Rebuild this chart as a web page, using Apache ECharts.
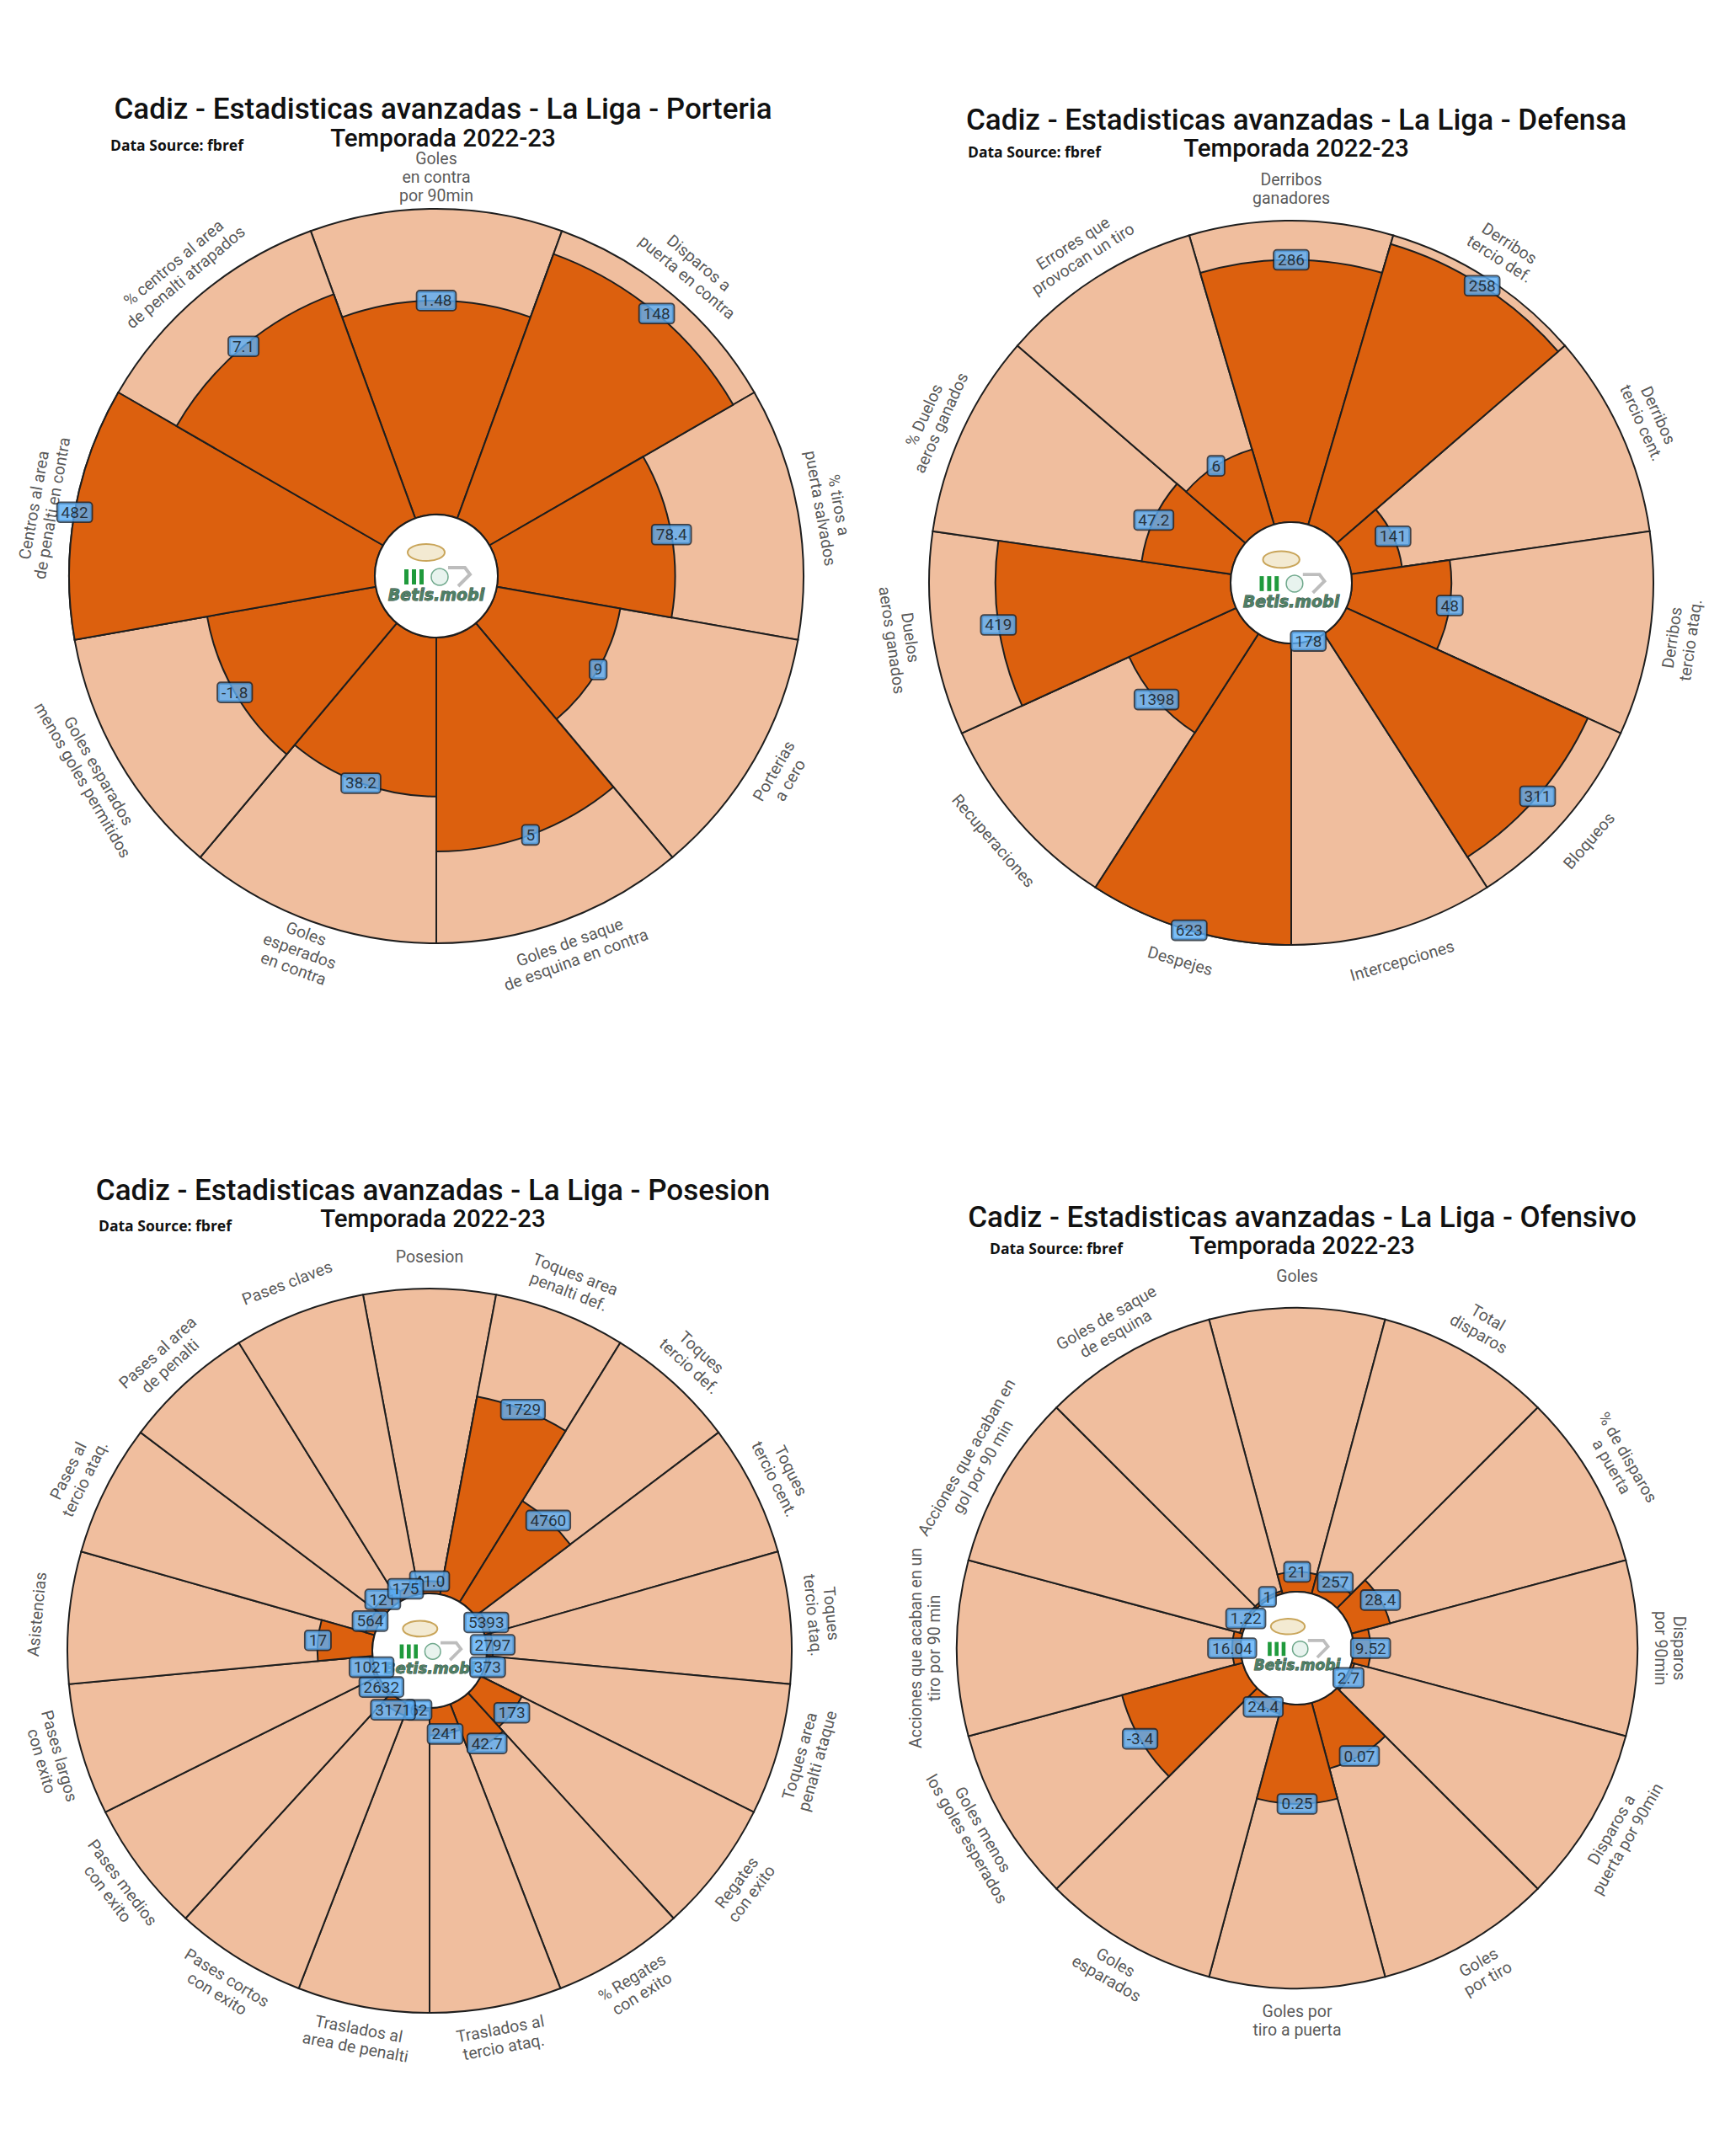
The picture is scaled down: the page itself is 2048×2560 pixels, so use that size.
<!DOCTYPE html>
<html>
<head>
<meta charset="utf-8">
<script src="https://cdn.jsdelivr.net/npm/echarts@6/dist/echarts.min.js"></script>
<style>
html,body{margin:0;padding:0;background:#ffffff;}
#c{width:2048px;height:2560px;}
</style>
</head>
<body>
<div id="c"></div>
<script>
// ---------------- data ----------------
const titlePrefix = 'Cadiz - Estadisticas avanzadas - La Liga - ';
const season = 'Temporada 2022-23';
const sourceText = 'Data Source: fbref';
const logoText = 'Betis.mobi';

const names = ['Porteria', 'Defensa', 'Posesion', 'Ofensivo'];

const cats1 = ['Goles\nen contra\npor 90min', 'Disparos a\npuerta en contra', '% tiros a\npuerta salvados', 'Porterias\na cero',
  'Goles de saque\nde esquina en contra', 'Goles\nesperados\nen contra', 'Goles esparados\nmenos goles permitidos',
  'Centros al area\nde penalti en contra', '% centros al area\nde penalti atrapados'];
const values1 = ['1.48', '148', '78.4', '9', '5', '38.2', '-1.8', '482', '7.1'];
const pct1 = [70, 92, 58, 41, 70, 52, 56, 100, 78];

const cats2 = ['Derribos\nganadores', 'Derribos\ntercio def.', 'Derribos\ntercio cent.', 'Derribos\ntercio ataq.', 'Bloqueos',
  'Intercepciones', 'Despejes', 'Recuperaciones', 'Duelos\naeros ganados', '% Duelos\naeros ganados', 'Errores que\nprovocan un tiro'];
const values2 = ['286', '258', '141', '48', '311', '178', '623', '1398', '419', '47.2', '6'];
const pct2 = [87, 97, 17, 33, 88, 0, 100, 39, 78, 30, 26];

const cats3 = ['Posesion', 'Toques area\npenalti def.', 'Toques\ntercio def.', 'Toques\ntercio cent.', 'Toques\ntercio ataq.',
  'Toques area\npenalti ataque', 'Regates\ncon exito', '% Regates\ncon exito', 'Traslados al\ntercio ataq.',
  'Traslados al\narea de penalti', 'Pases cortos\ncon exito', 'Pases medios\ncon exito', 'Pases largos\ncon exito',
  'Asistencias', 'Pases al\ntercio ataq.', 'Pases al area\nde penalti', 'Pases claves'];
const values3 = ['41.0', '1729', '4760', '5393', '2797', '373', '173', '42.7', '241', '62', '3171', '2632', '1021', '17', '564', '121', '175'];
const pct3 = [4, 66, 39, 2, 2, 1, 15, 17, 9, 1, 4, 1, 1, 18, 3, 4, 3];

const cats4 = ['Goles', 'Total\ndisparos', '% de disparos\na puerta', 'Disparos\npor 90min', 'Disparos a\npuerta por 90min',
  'Goles\npor tiro', 'Goles por\ntiro a puerta', 'Goles\nesparados', 'Goles menos\nlos goles esperados',
  'Acciones que acaban en un\ntiro por 90 min', 'Acciones que acaban en\ngol por 90 min', 'Goles de saque\nde esquina'];
const values4 = ['21', '257', '28.4', '9.52', '2.7', '0.07', '0.25', '24.4', '-3.4', '16.04', '1.22', '1'];
const pct4 = [7, 7, 14, 6, 1, 24, 35, 4, 44, 3, 1, 1];

// ---------------- layout / style ----------------
const LIGHT = '#F0BE9E';
const DARK = '#DC600E';
const EDGE = '#1e1e1e';
const BOX = '#5AAEF6';

const panels = [
  { name: names[0], cats: cats1, values: values1, pct: pct1, cx: 518, cy: 684, r0: 73, r: 436, tx: 526, ty: 129, sy: 164, dx: 131, dy: 172 },
  { name: names[1], cats: cats2, values: values2, pct: pct2, cx: 1533, cy: 692, r0: 72, r: 430, tx: 1539, ty: 142, sy: 176, dx: 1149, dy: 180 },
  { name: names[2], cats: cats3, values: values3, pct: pct3, cx: 510, cy: 1960, r0: 68, r: 430, tx: 514, ty: 1413, sy: 1447, dx: 117, dy: 1455 },
  { name: names[3], cats: cats4, values: values4, pct: pct4, cx: 1540, cy: 1957, r0: 67, r: 404, tx: 1546, ty: 1445, sy: 1479, dx: 1175, dy: 1482 }
];

const polar = [], angleAxis = [], radiusAxis = [], series = [], graphic = [];

panels.forEach((p, k) => {
  const N = p.cats.length;
  polar.push({ center: [p.cx, p.cy], radius: [p.r0, p.r] });
  angleAxis.push({
    polarIndex: k, type: 'category', data: p.cats, startAngle: 90 + 180 / N, clockwise: true,
    boundaryGap: true, axisLine: { show: false }, axisTick: { show: false }, axisLabel: { show: false },
    splitLine: { show: false }, splitArea: { show: false }
  });
  radiusAxis.push({
    polarIndex: k, type: 'value', min: 0, max: 100, axisLine: { show: false }, axisTick: { show: false },
    axisLabel: { show: false }, splitLine: { show: false }
  });
  // full-length background wedges
  series.push({
    type: 'bar', coordinateSystem: 'polar', polarIndex: k, data: p.cats.map(() => 100),
    barCategoryGap: '0%', barGap: '-100%', silent: true, z: 2, animation: false,
    itemStyle: { color: LIGHT, borderColor: EDGE, borderWidth: 2 }
  });
  // percentile wedges
  series.push({
    type: 'bar', coordinateSystem: 'polar', polarIndex: k, data: p.pct,
    barCategoryGap: '0%', barGap: '-100%', silent: true, z: 3, animation: false,
    itemStyle: { color: DARK, borderColor: EDGE, borderWidth: 2 }
  });
  // category names around the circle
  const gap = 38 / (p.r - p.r0) * 100;
  series.push({
    type: 'scatter', coordinateSystem: 'polar', polarIndex: k, symbolSize: 0, clip: false, silent: true, z: 4, animation: false,
    data: p.cats.map((c, i) => {
      let th = 90 - 360 * i / N;
      if (th <= -180) th += 360;
      const rot = th >= -0.001 ? th - 90 : th + 90;
      return { value: [100 + gap, i], name: c, label: { rotate: rot } };
    }),
    label: {
      show: true, position: 'inside', formatter: '{b}', fontFamily: 'Roboto', fontSize: 19.5,
      lineHeight: 22, color: '#2b2b2b', align: 'center', verticalAlign: 'middle'
    }
  });
  // value boxes at the end of each wedge
  series.push({
    type: 'scatter', coordinateSystem: 'polar', polarIndex: k, symbolSize: 0, clip: false, silent: true, z: 10, animation: false,
    data: p.pct.map((v, i) => ({ value: [v, i], name: p.values[i] })),
    label: {
      show: true, position: 'inside', formatter: '{b}', fontFamily: 'Roboto', fontSize: 19, color: '#111111',
      backgroundColor: BOX, borderColor: '#16222e', borderWidth: 1.8, borderRadius: 3, padding: [2, 4, 1, 4]
    }
  });

  // titles
  graphic.push({ type: 'text', x: p.tx, y: p.ty, z: 20, silent: true,
    style: { text: titlePrefix + p.name, fontFamily: 'Roboto', fontWeight: 500, fontSize: 35, fill: '#111111', align: 'center', verticalAlign: 'middle' } });
  graphic.push({ type: 'text', x: p.tx, y: p.sy, z: 20, silent: true,
    style: { text: season, fontFamily: 'Roboto', fontWeight: 500, fontSize: 29.5, fill: '#111111', align: 'center', verticalAlign: 'middle' } });
  graphic.push({ type: 'text', x: p.dx, y: p.dy, z: 20, silent: true,
    style: { text: sourceText, fontFamily: 'Open Sans', fontWeight: 'bold', fontSize: 17.5, fill: '#111111', align: 'left', verticalAlign: 'middle' } });

  // centre disc with logo
  graphic.push({ type: 'circle', z: 5, silent: true, shape: { cx: p.cx, cy: p.cy, r: p.r0 },
    style: { fill: '#ffffff', stroke: EDGE, lineWidth: 2 } });
  const s = p.r0 / 73;
  graphic.push({ type: 'ellipse', z: 6, silent: true, shape: { cx: p.cx - 12 * s, cy: p.cy - 28 * s, rx: 22 * s, ry: 10 * s },
    style: { fill: '#f3ead2', stroke: '#c9a55a', lineWidth: 2 } });
  for (let j = 0; j < 3; j++) {
    graphic.push({ type: 'rect', z: 6, silent: true,
      shape: { x: p.cx - 38 * s + j * 9 * s, y: p.cy - 8 * s, width: 5 * s, height: 18 * s },
      style: { fill: '#1f9a3c' } });
  }
  graphic.push({ type: 'circle', z: 6, silent: true, shape: { cx: p.cx + 4 * s, cy: p.cy + 1 * s, r: 10 * s },
    style: { fill: '#e8f3ee', stroke: '#6fa88c', lineWidth: 1.5 } });
  graphic.push({ type: 'polyline', z: 6, silent: true,
    shape: { points: [[p.cx + 14 * s, p.cy - 10 * s], [p.cx + 34 * s, p.cy - 10 * s], [p.cx + 40 * s, p.cy - 2 * s], [p.cx + 26 * s, p.cy + 12 * s]] },
    style: { stroke: '#bdbdbd', lineWidth: 4 * s, fill: null } });
  graphic.push({ type: 'text', x: p.cx, y: p.cy + 22 * s, z: 7, silent: true,
    style: { text: logoText, fontFamily: 'DejaVu Sans', fontStyle: 'italic', fontWeight: 'bold', fontSize: Math.round(19 * s),
      fill: '#4f7f66', stroke: '#1c3b2b', lineWidth: 0.8, align: 'center', verticalAlign: 'middle' } });
});

const chart = echarts.init(document.getElementById('c'), null, { renderer: 'svg', width: 2048, height: 2560 });
chart.setOption({
  backgroundColor: '#ffffff',
  animation: false,
  polar: polar,
  angleAxis: angleAxis,
  radiusAxis: radiusAxis,
  series: series,
  graphic: graphic
});
</script>
</body>
</html>
